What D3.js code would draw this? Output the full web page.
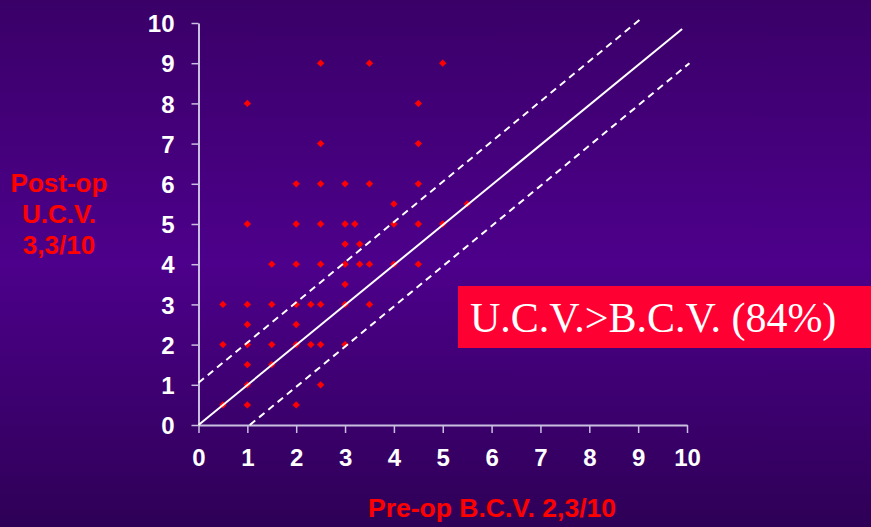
<html>
<head>
<meta charset="utf-8"/>
<title>U.C.V. vs B.C.V.</title>
<style>
body {margin: 0; background: #3c006c}
svg {display: block}
</style>
</head>
<body>
<div id="chart"></div>
<script src="https://d3js.org/d3.v7.min.js"></script>
<script>

// pre-op B.C.V. (x) and post-op U.C.V. (y)
var preBCV  = [2.5, 3.5, 5,  1, 4.5,  2.5, 4.5,  2, 2.5, 3, 3.5, 4.5,  4, 5.5,
               1, 2, 2.5, 3, 3.2, 4, 4.5, 5,  3, 3.3,
               1.5, 2, 2.5, 3, 3.3, 3.5, 4, 4.5,  3,
               0.5, 1, 1.5, 2, 2.3, 2.5, 3, 3.5,  1, 2,
               0.5, 1, 1.5, 2, 2.3, 2.5, 3,  1, 1.5,  1, 2.5,  0.5, 1, 2]
var postUCV = [9, 9, 9,  8, 8,  7, 7,  6, 6, 6, 6, 6,  5.5, 5.5,
               5, 5, 5, 5, 5, 5, 5, 5,  4.5, 4.5,
               4, 4, 4, 4, 4, 4, 4, 4,  3.5,
               3, 3, 3, 3, 3, 3, 3, 3,  2.5, 2.5,
               2, 2, 2, 2, 2, 2, 2,  1.5, 1.5,  1, 1,  0.5, 0.5, 0.5]

// reference lines: identity and +/- 1 line bands
var lineIdentity = [[0, 0], [9.9, 9.85]]
var lineUpper = [[0, 1.05], [9.05, 10.1]]
var lineLower = [[1.05, 0], [10.05, 9]]

var axisTicks = [0, 1, 2, 3, 4, 5, 6, 7, 8, 9, 10]

var width = 871,
    height = 527

var svg = d3.select("#chart")
  .append("svg")
    .attr("width", width)
    .attr("height", height)

// background gradient
var defs = svg.append("defs")
var grad = defs.append("linearGradient")
    .attr("id", "bg")
    .attr("x1", 0).attr("y1", 0).attr("x2", 0).attr("y2", 1)
grad.append("stop").attr("offset", "0%").attr("stop-color", "#3a0068")
grad.append("stop").attr("offset", "50%").attr("stop-color", "#4d008b")
grad.append("stop").attr("offset", "100%").attr("stop-color", "#2e0056")

svg.append("rect")
  .attr("width", width)
  .attr("height", height)
  .attr("fill", "url(#bg)")

var x = d3.scaleLinear().domain([0, 10]).range([198.5, 687])
var y = d3.scaleLinear().domain([0, 10]).range([425, 23])

// axes
var axisColor = "#c9bfe0"

var xAxis = svg.append("g")
  .attr("transform", "translate(0," + y(0) + ")")
  .call(d3.axisBottom(x).tickValues(axisTicks).tickSize(8).tickSizeOuter(0))
xAxis.select(".domain").attr("stroke", axisColor).attr("stroke-width", 2)
xAxis.selectAll(".tick line").attr("stroke", axisColor).attr("stroke-width", 1.5)
xAxis.selectAll(".tick text")
  .attr("y", 41).attr("dy", 0)
  .attr("fill", "white")
  .style("font-family", "Arial, 'Liberation Sans', sans-serif")
  .style("font-weight", "bold")
  .style("font-size", "24px")

var yAxis = svg.append("g")
  .attr("transform", "translate(" + x(0) + ",0)")
  .call(d3.axisLeft(y).tickValues(axisTicks).tickSize(7).tickSizeOuter(0).tickPadding(17))
yAxis.select(".domain").attr("stroke", axisColor).attr("stroke-width", 2)
yAxis.selectAll(".tick line").attr("stroke", axisColor).attr("stroke-width", 1.5)
yAxis.selectAll(".tick text")
  .attr("fill", "white")
  .attr("dy", "0.36em")
  .style("font-family", "Arial, 'Liberation Sans', sans-serif")
  .style("font-weight", "bold")
  .style("font-size", "24px")

// points
var diamond = d3.symbol().type(d3.symbolSquare).size(27)
svg.selectAll("path.pt")
  .data(d3.range(preBCV.length))
  .enter()
  .append("path")
    .attr("class", "pt")
    .attr("d", diamond)
    .attr("transform", function(i) {
      return "translate(" + x(preBCV[i]) + "," + y(postUCV[i]) + ") rotate(45)"
    })
    .attr("fill", "#ff0000")

// lines on top of the points
var line = d3.line().x(function(d) { return x(d[0]) }).y(function(d) { return y(d[1]) })

svg.append("path")
  .attr("d", line(lineIdentity))
  .attr("stroke", "white").attr("stroke-width", 2).attr("fill", "none")

svg.selectAll("path.band")
  .data([lineUpper, lineLower])
  .enter()
  .append("path")
    .attr("class", "band")
    .attr("d", line)
    .attr("stroke", "white")
    .attr("stroke-width", 2)
    .attr("stroke-dasharray", "7,5")
    .attr("fill", "none")

// axis titles
var yTitle = svg.append("text")
  .attr("fill", "#ff0000")
  .attr("text-anchor", "middle")
  .style("font-family", "Arial, 'Liberation Sans', sans-serif")
  .style("font-weight", "bold")
  .style("font-size", "26px")
;["Post-op", "U.C.V.", "3,3/10"].forEach(function(t, i) {
  yTitle.append("tspan").attr("x", 59).attr("y", 192 + i * 31).text(t)
})

svg.append("text")
  .attr("x", 492)
  .attr("y", 517)
  .attr("fill", "#ff0000")
  .attr("text-anchor", "middle")
  .style("font-family", "Arial, 'Liberation Sans', sans-serif")
  .style("font-weight", "bold")
  .style("font-size", "26.5px")
  .text("Pre-op B.C.V. 2,3/10")

// callout box
svg.append("rect")
  .attr("x", 458)
  .attr("y", 286)
  .attr("width", width - 458)
  .attr("height", 62)
  .attr("fill", "#ff0033")

svg.append("text")
  .attr("x", 470)
  .attr("y", 332)
  .attr("fill", "white")
  .style("font-family", "'Times New Roman', 'Liberation Serif', serif")
  .style("font-size", "42px")
  .text("U.C.V.>B.C.V. (84%)")

</script>
</body>
</html>
